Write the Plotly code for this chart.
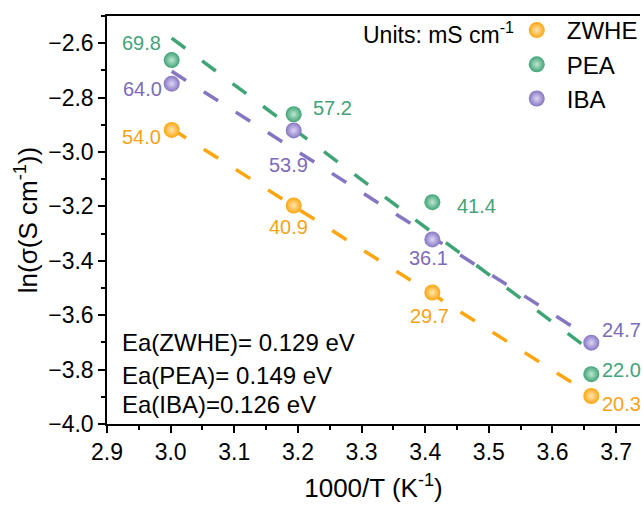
import numpy as np
import plotly.graph_objects as go

# Measurement temperatures (deg C) and ionic conductivities (mS cm^-1)
temps_c = [60, 40, 20, 0]
series_names = ["ZWHE", "PEA", "IBA"]
sigma_zwhe = [54.0, 40.9, 29.7, 20.3]
sigma_pea = [69.8, 57.2, 41.4, 22.0]
sigma_iba = [64.0, 53.9, 36.1, 24.7]
ea_labels = ["Ea(ZWHE)= 0.129 eV", "Ea(PEA)= 0.149 eV", "Ea(IBA)=0.126 eV"]

colors = {"ZWHE": "#FFA50F", "PEA": "#3FA476", "IBA": "#8675C2"}
highlights = {"ZWHE": "#FFE6B0", "PEA": "#BFE6D2", "IBA": "#DDD6F4"}
text_colors = {"ZWHE": "#F5A31A", "PEA": "#44A378", "IBA": "#7B6BB8"}

# pixel offsets of each value label: (xshift, yshift, xanchor)
label_offsets = {
    "ZWHE": [(-9, -7, "right"), (-5, -22, "center"), (-3, -23, "center"), (9, -8, "left")],
    "PEA": [(-9, 17, "right"), (17, 6, "left"), (23, -4, "left"), (9, 4, "left")],
    "IBA": [(-8, -5, "right"), (-5, -35, "center"), (-4, -19, "center"), (9, 13, "left")],
}

FONT = "Arial, Liberation Sans, sans-serif"

x = 1000.0 / (np.array(temps_c, dtype=float) + 273.15)
data = {"ZWHE": sigma_zwhe, "PEA": sigma_pea, "IBA": sigma_iba}

fig = go.Figure()
annotations = []

# Arrhenius fits (dashed)
for name in series_names:
    y = np.log(np.array(data[name]) / 1000.0)
    slope, intercept = np.polyfit(x, y, 1)
    xf = np.array([x.min(), x.max()])
    fig.add_trace(go.Scatter(
        x=xf, y=slope * xf + intercept, mode="lines",
        line=dict(color=colors[name], width=3.5, dash="17px,21px"),
        showlegend=False, hoverinfo="skip",
    ))

# Data points
for name in series_names:
    y = np.log(np.array(data[name]) / 1000.0)
    fig.add_trace(go.Scatter(
        x=x, y=y, mode="markers", name=name,
        marker=dict(size=16, color=colors[name],
                    gradient=dict(type="radial", color=highlights[name]),
                    line=dict(width=0)),
    ))
    for xi, yi, val, (dx, dy, anc) in zip(x, y, data[name], label_offsets[name]):
        annotations.append(dict(
            x=xi, y=yi, text=f"{val:.1f}", showarrow=False,
            xshift=dx, yshift=dy, xanchor=anc, yanchor="middle",
            font=dict(family=FONT, size=20, color=text_colors[name]),
        ))

annotations.append(dict(
    xref="paper", yref="paper", x=(518 - 107) / 536, y=(424 - 33) / 408,
    text="Units: mS cm<sup>-1</sup>", showarrow=False,
    xanchor="right", yanchor="middle",
    font=dict(family=FONT, size=23, color="black"),
))
for i, (txt, ypix) in enumerate(zip(ea_labels, [342, 375, 404])):
    annotations.append(dict(
        xref="paper", yref="paper", x=(120 - 107) / 536, y=(424 - ypix) / 408,
        text=txt, showarrow=False, xanchor="left", yanchor="middle",
        font=dict(family=FONT, size=24, color="black"),
    ))

fig.update_layout(
    width=643, height=505,
    margin=dict(l=107, r=0, t=16, b=81),
    paper_bgcolor="white", plot_bgcolor="white",
    font=dict(family=FONT, size=23, color="black"),
    annotations=annotations,
    legend=dict(
        x=(509 - 107) / 536, y=(424 - 8) / 408, xanchor="left", yanchor="top",
        bgcolor="rgba(0,0,0,0)", font=dict(family=FONT, size=24, color="black"),
        itemwidth=50, tracegroupgap=0,
    ),
    xaxis=dict(
        range=[2.9, 3.7375], dtick=0.1, tick0=2.9, tickformat=".1f",
        showline=True, linecolor="black", linewidth=1.5, mirror=True,
        ticks="outside", ticklen=7, tickwidth=1.5, tickcolor="black",
        minor=dict(dtick=0.05, ticks="outside", ticklen=4, tickwidth=1.5, tickcolor="black"),
        showgrid=False, zeroline=False,
        title=dict(text="1000/T (K<sup>-1</sup>)", font=dict(family=FONT, size=26), standoff=14),
        tickfont=dict(family=FONT, size=23),
    ),
    yaxis=dict(
        range=[-4.0, -2.5], dtick=0.2, tick0=-4.0, tickformat=".1f",
        showline=True, linecolor="black", linewidth=1.5, mirror=False,
        ticks="outside", ticklen=7, tickwidth=1.5, tickcolor="black",
        minor=dict(dtick=0.1, ticks="outside", ticklen=4, tickwidth=1.5, tickcolor="black"),
        showgrid=False, zeroline=False,
        title=dict(text="ln(σ(S cm<sup>-1</sup>))", font=dict(family=FONT, size=26), standoff=3),
        tickfont=dict(family=FONT, size=23),
    ),
)

fig.write_html("out.html")
